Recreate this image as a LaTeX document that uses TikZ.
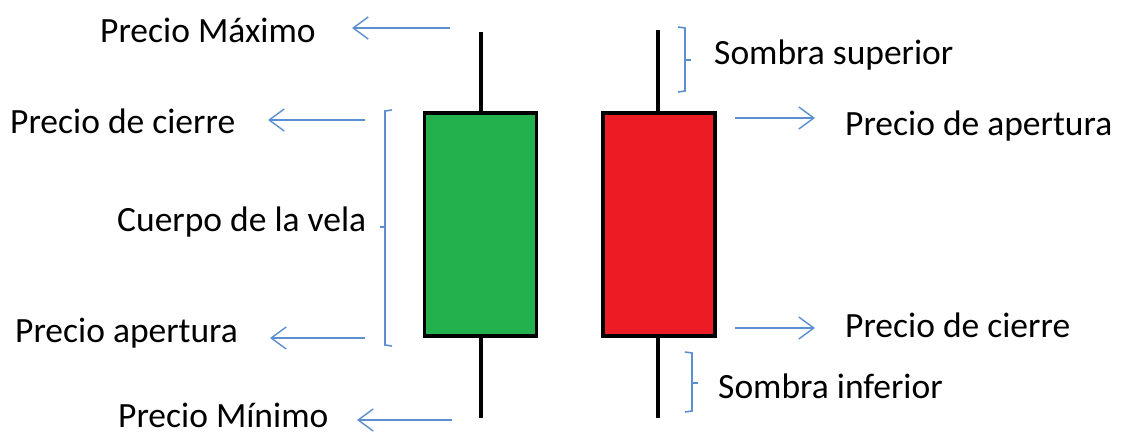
\documentclass[tikz,border=0pt]{standalone}
\usepackage{fontspec}
\setmainfont{Carlito}
\usetikzlibrary{arrows.meta}
\definecolor{cgreen}{HTML}{22B14C}
\definecolor{cred}{HTML}{ED1C24}
\definecolor{cblue}{HTML}{5B8FD0}
\begin{document}
\begin{tikzpicture}[x=1pt,y=-1pt,
  wick/.style={line width=3.5pt},
  body/.style={draw=black,line width=3.5pt},
  arr/.style={draw=cblue,line width=1.4pt,-{Straight Barb[length=15pt,width=22pt,line width=1.4pt]}},
  brk/.style={draw=cblue,line width=1.6pt},
  lbl/.style={anchor=west,inner sep=0pt,font=\fontsize{35.5}{38}\selectfont}]
\useasboundingbox (0,0) rectangle (1122,432);
% green candle
\coordinate (gt) at (481,32);
\coordinate (gb) at (481,418);
\draw[wick] (gt) -- (gb);
\node[body,fill=cgreen,minimum width=112pt,minimum height=223pt,inner sep=0pt] (gbody) at (480.5,224.5) {};
% red candle
\coordinate (rt) at (658,30);
\coordinate (rb) at (658,418);
\draw[wick] (rt) -- (rb);
\node[body,fill=cred,minimum width=112pt,minimum height=223pt,inner sep=0pt] (rbody) at (659,224.5) {};
% labels
\node[lbl] (pmax) at (100,30) {Precio Máximo};
\node[lbl] (pcl) at (10,121) {Precio de cierre};
\node[lbl] (cuerpo) at (117,222) {Cuerpo de la vela};
\node[lbl] (pap) at (15,333) {Precio apertura};
\node[lbl] (pmin) at (118,415) {Precio Mínimo};
\node[lbl] (ssup) at (714,55) {Sombra superior};
\node[lbl] (papr) at (845,126) {Precio de apertura};
\node[lbl] (pcr) at (845,325) {Precio de cierre};
\node[lbl] (sinf) at (718,386) {Sombra inferior};
% arrows
\coordinate (a1s) at (450,28); \coordinate (a1e) at (352,28);
\coordinate (a2s) at (365,120); \coordinate (a2e) at (268,120);
\coordinate (a3s) at (365,338); \coordinate (a3e) at (270,338);
\coordinate (a4s) at (452,420); \coordinate (a4e) at (357,420);
\coordinate (a5s) at (735,118); \coordinate (a5e) at (815,118);
\coordinate (a6s) at (735,328); \coordinate (a6e) at (815,328);
\draw[arr] (a1s) -- (a1e);
\draw[arr] (a2s) -- (a2e);
\draw[arr] (a3s) -- (a3e);
\draw[arr] (a4s) -- (a4e);
\draw[arr] (a5s) -- (a5e);
\draw[arr] (a6s) -- (a6e);
% brackets
\draw[brk] (392,110) -- (385,111) -- (385,345) -- (392,346);
\draw[brk] (385,227) -- (380,227);
\draw[brk] (678,27) -- (685,28) -- (685,91) -- (678,92);
\draw[brk] (685,60) -- (691,60);
\draw[brk] (685,352) -- (692,353) -- (692,411) -- (685,412);
\draw[brk] (692,383) -- (698,383);
\end{tikzpicture}
\end{document}
